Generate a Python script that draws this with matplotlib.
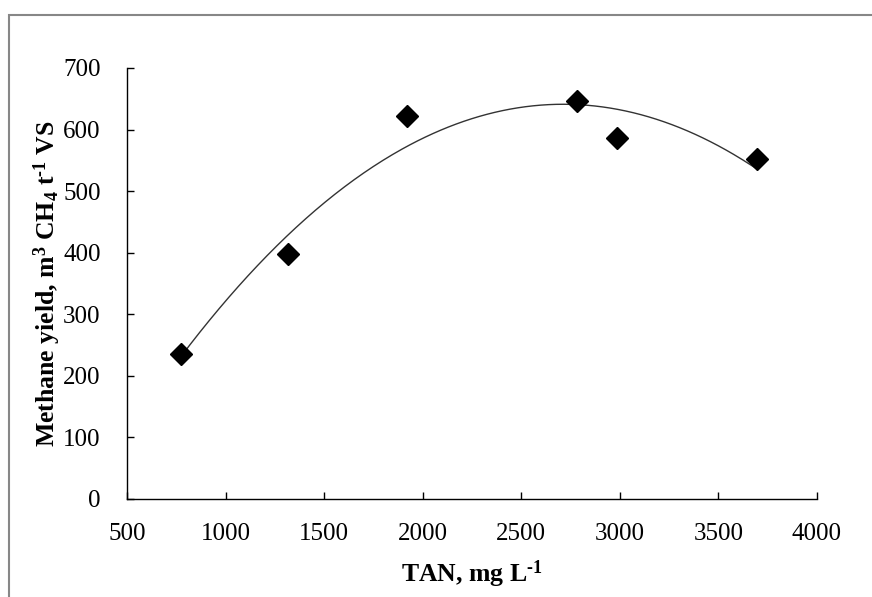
import numpy as np
import matplotlib
matplotlib.use("Agg")
import matplotlib.pyplot as plt
from matplotlib.patches import Rectangle

# TAN concentration vs methane yield
tan_mg_l = [772, 1317, 1922, 2784, 2987, 3694]
methane_yield = [235, 398, 622, 647, 587, 553]

x_ticks = [500, 1000, 1500, 2000, 2500, 3000, 3500, 4000]
y_ticks = [0, 100, 200, 300, 400, 500, 600, 700]

plt.rcParams["font.family"] = "Liberation Serif"
plt.rcParams["mathtext.fontset"] = "custom"
plt.rcParams["mathtext.rm"] = "Liberation Serif:bold"
plt.rcParams["mathtext.it"] = "Liberation Serif:bold"
plt.rcParams["mathtext.bf"] = "Liberation Serif:bold"

fig = plt.figure(figsize=(8.72, 5.97), dpi=100)
ax = fig.add_axes([0.1456, 0.1642, 0.7913, 0.7219])

# grey chart-area frame (only top and left edges are inside the picture)
frame_top = 1 - 15 / 597
frame = Rectangle((9 / 872, -0.1), 1.2, frame_top + 0.1,
                  transform=fig.transFigure, fill=False,
                  edgecolor="#878787", linewidth=1.5, clip_on=False)
fig.patches.append(frame)

# quadratic trendline
coef = np.polyfit(tan_mg_l, methane_yield, 2)
xs = np.linspace(min(tan_mg_l), max(tan_mg_l), 300)
ax.plot(xs, np.polyval(coef, xs), color="#333333", linewidth=1.0, zorder=2)

ax.plot(tan_mg_l, methane_yield, linestyle="none", marker="D",
        markersize=11, color="black", zorder=3)

ax.set_xlim(500, 4000)
ax.set_ylim(0, 700)
ax.set_xticks(x_ticks)
ax.set_yticks(y_ticks)
ax.spines["top"].set_visible(False)
ax.spines["right"].set_visible(False)
for s in ("left", "bottom"):
    ax.spines[s].set_linewidth(1.0)
ax.tick_params(axis="both", direction="in", length=5, width=1.0,
               labelsize=18, colors="black")
ax.tick_params(axis="x", pad=17)
ax.tick_params(axis="y", pad=19)

ax.set_xlabel(r"TAN, mg L$^{\text{-}1}$", fontsize=18.5, fontweight="bold", labelpad=10)
ax.set_ylabel(r"Methane yield, m$^{3}$ CH$_{4}$ t$^{\text{-}1}$ VS",
              fontsize=18.5, fontweight="bold", labelpad=0)

fig.savefig("out.png", dpi=100)
